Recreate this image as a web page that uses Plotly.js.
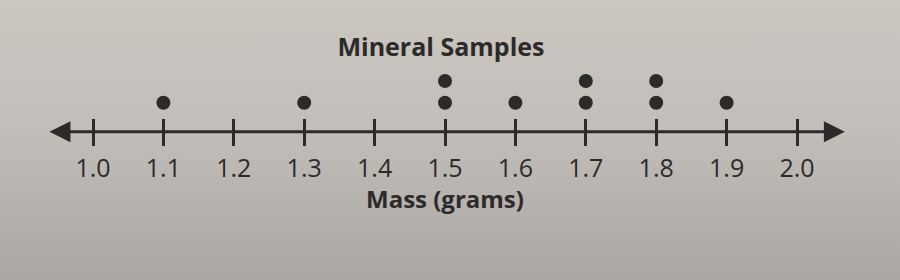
<!DOCTYPE html>
<html>
<head>
<meta charset="utf-8">
<script src="https://cdn.plot.ly/plotly-3.0.1.min.js"></script>
<style>
  html, body { margin: 0; padding: 0; }
  body { width: 900px; height: 280px; overflow: hidden;
         background: linear-gradient(180deg, #cbc6c0 0%, #c2beb9 45%, #aaa6a1 100%); }
  #chart { width: 900px; height: 280px; }
</style>
</head>
<body>
<div id="chart"></div>
<script>
// ---- data ----
const masses = [1.1, 1.3, 1.5, 1.6, 1.7, 1.8, 1.9];
const counts = [1, 1, 2, 1, 2, 2, 1];
const tickValues = [1.0, 1.1, 1.2, 1.3, 1.4, 1.5, 1.6, 1.7, 1.8, 1.9, 2.0];
const tickLabels = ['1.0', '1.1', '1.2', '1.3', '1.4', '1.5', '1.6', '1.7', '1.8', '1.9', '2.0'];
const chartTitle = 'Mineral Samples';
const axisTitle = 'Mass (grams)';

// build stacked dots
const dotX = [], dotY = [];
masses.forEach((m, i) => {
  for (let k = 1; k <= counts[i]; k++) { dotX.push(m); dotY.push(k); }
});

const ink = '#2c2b2a';
const axisPos = 1 - 131.7 / 280;

const traces = [
  { x: dotX, y: dotY, type: 'scatter', mode: 'markers',
    marker: { size: 14, color: ink }, hoverinfo: 'x', showlegend: false, cliponaxis: false },
  { x: [], y: [], type: 'scatter', mode: 'markers', xaxis: 'x2', showlegend: false }
];

const xr = [1.0 - 93 / 704, 1.0 + 807 / 704];
const layout = {
  width: 900, height: 280,
  margin: { l: 0, r: 0, t: 0, b: 0 },
  paper_bgcolor: 'rgba(0,0,0,0)',
  plot_bgcolor: 'rgba(0,0,0,0)',
  font: { family: 'Open Sans, sans-serif', color: ink },
  title: { text: chartTitle, x: 441 / 900, xanchor: 'center', y: 1 - 47 / 280, yanchor: 'middle',
           yref: 'paper', xref: 'paper',
           font: { family: 'Open Sans, sans-serif', size: 25, weight: 'bold', color: ink } },
  xaxis: {
    range: xr, anchor: 'free', position: axisPos,
    showline: false, showgrid: false, zeroline: false,
    tickmode: 'array', tickvals: tickValues, ticktext: tickLabels,
    ticks: 'outside', ticklen: 13, tickwidth: 3, tickcolor: ink,
    tickfont: { size: 25, color: ink }, ticklabelstandoff: 1
  },
  xaxis2: {
    overlaying: 'x', matches: 'x', anchor: 'free', position: axisPos,
    showline: false, showgrid: false, zeroline: false,
    tickmode: 'array', tickvals: tickValues,
    ticks: 'inside', ticklen: 13, tickwidth: 3, tickcolor: ink,
    showticklabels: false
  },
  yaxis: { range: [1 + 102.7 / 21.7 - 280 / 21.7, 1 + 102.7 / 21.7],
           visible: false, showgrid: false, zeroline: false, fixedrange: true },
  annotations: [
    { x: 2.068, y: axisPos, xref: 'x', yref: 'paper',
      ax: 0.936, ay: axisPos, axref: 'x', ayref: 'paper',
      text: '', showarrow: true, arrowside: 'end+start',
      arrowhead: 2, arrowsize: 1.4, arrowwidth: 3, arrowcolor: ink, standoff: 0, startstandoff: 0 },
    { x: 445 / 900, y: 1 - 198 / 280, xref: 'paper', yref: 'paper',
      xanchor: 'center', yanchor: 'middle', showarrow: false, text: axisTitle,
      font: { family: 'Open Sans, sans-serif', size: 24, weight: 'bold', color: ink } }
  ]
};

Plotly.newPlot('chart', traces, layout, { displayModeBar: false, staticPlot: true });
</script>
</body>
</html>
